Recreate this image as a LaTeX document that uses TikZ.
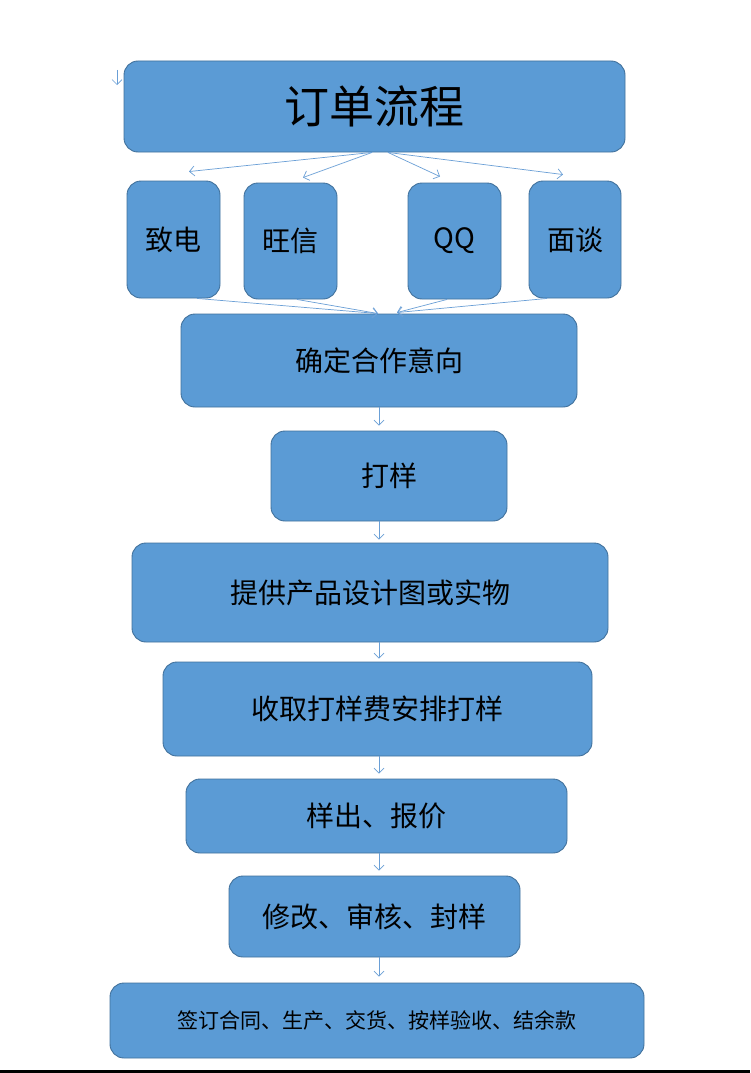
\documentclass[tikz,border=0pt]{standalone}
\usepackage{fontspec}
\setmainfont{Noto Sans CJK SC}
\usetikzlibrary{arrows.meta}
\definecolor{boxblue}{HTML}{5B9BD5}
\definecolor{boxline}{HTML}{41719C}
\definecolor{arrblue}{HTML}{6A9FD6}
\tikzset{
  box/.style={draw=boxline, fill=boxblue, line width=0.9pt, rounded corners=14pt, inner sep=0pt, text=black, font=\fontsize{28}{30}\selectfont},
  arr/.style={draw=arrblue, line width=0.7pt, -{Straight Barb[length=5pt,width=10pt]}}
}
\begin{document}
\begin{tikzpicture}[x=1pt,y=-1pt]
\useasboundingbox (0,0) rectangle (750,1073);
\fill[white] (0,0) rectangle (750,1073);
% boxes
\node[box, minimum width=501pt, minimum height=91pt, font=\fontsize{45}{47}\selectfont] (title) at (374.5,106.5) {\raisebox{-3pt}{订单流程}};
\node[box, minimum width=93pt, minimum height=117pt] (zd) at (173.5,239.5) {致电};
\node[box, minimum width=93pt, minimum height=116pt] (wx) at (290.5,241) {旺信};
\node[box, minimum width=93pt, minimum height=116pt] (qq) at (454.5,241) {QQ};
\node[box, minimum width=92pt, minimum height=117pt] (mt) at (575,239.5) {面谈};
\node[box, minimum width=396pt, minimum height=93pt] (qd) at (379,360.5) {确定合作意向};
\node[box, minimum width=236pt, minimum height=90pt] (dy) at (389,476) {打样};
\node[box, minimum width=476pt, minimum height=99pt] (tg) at (370,592.5) {提供产品设计图或实物};
\node[box, minimum width=429pt, minimum height=94pt] (sq) at (377.5,709) {收取打样费安排打样};
\node[box, minimum width=381pt, minimum height=74pt] (yc) at (376.5,816) {样出、报价};
\node[box, minimum width=291pt, minimum height=81pt] (xg) at (374.5,916.5) {修改、审核、封样};
\node[box, minimum width=534pt, minimum height=75pt, font=\fontsize{21}{23}\selectfont] (qy) at (377,1020.5) {签订合同、生产、交货、按样验收、结余款};
% arrows from title to channels
\draw[arr] ([xshift=-2.5pt]title.south) -- ([xshift=15.5pt,yshift=9pt]zd.north);
\draw[arr] ([xshift=-2.5pt]title.south) -- ([xshift=12.5pt,yshift=5pt]wx.north);
\draw[arr] ([xshift=13.5pt]title.south) -- ([xshift=-14.5pt,yshift=6pt]qq.north);
\draw[arr] ([xshift=13.5pt]title.south) -- ([xshift=-12pt,yshift=6pt]mt.north);
% arrows from channels to qd
\draw[arr] ([xshift=23.5pt]zd.south) -- ([xshift=-1pt]qd.north);
\draw[arr] ([xshift=6.5pt]wx.south) -- ([xshift=-1pt]qd.north);
\draw[arr] ([xshift=-7.5pt]qq.south) -- ([xshift=18pt,yshift=1pt]qd.north);
\draw[arr] ([xshift=-28pt]mt.south) -- ([xshift=18pt,yshift=1pt]qd.north);
% vertical chain
\coordinate (axis) at (379,0);
\draw[arr, shorten >=5pt] (qd.south -| axis) -- (dy.north -| axis);
\draw[arr, shorten >=3pt] (dy.south -| axis) -- (tg.north -| axis);
\draw[arr, shorten >=3pt] (tg.south -| axis) -- (sq.north -| axis);
\draw[arr, shorten >=5pt] (sq.south -| axis) -- (yc.north -| axis);
\draw[arr, shorten >=5pt] (yc.south -| axis) -- (xg.north -| axis);
\draw[arr, shorten >=6pt] (xg.south -| axis) -- (qy.north -| axis);
% stray arrow top-left
\coordinate (s1) at (117,70);
\coordinate (s2) at (117,85);
\draw[arr] (s1) -- (s2);
% bottom rule
\coordinate (b1) at (0,1071.5);
\coordinate (b2) at (750,1071.5);
\draw[black, line width=2.5pt] (b1) -- (b2);
\end{tikzpicture}
\end{document}
